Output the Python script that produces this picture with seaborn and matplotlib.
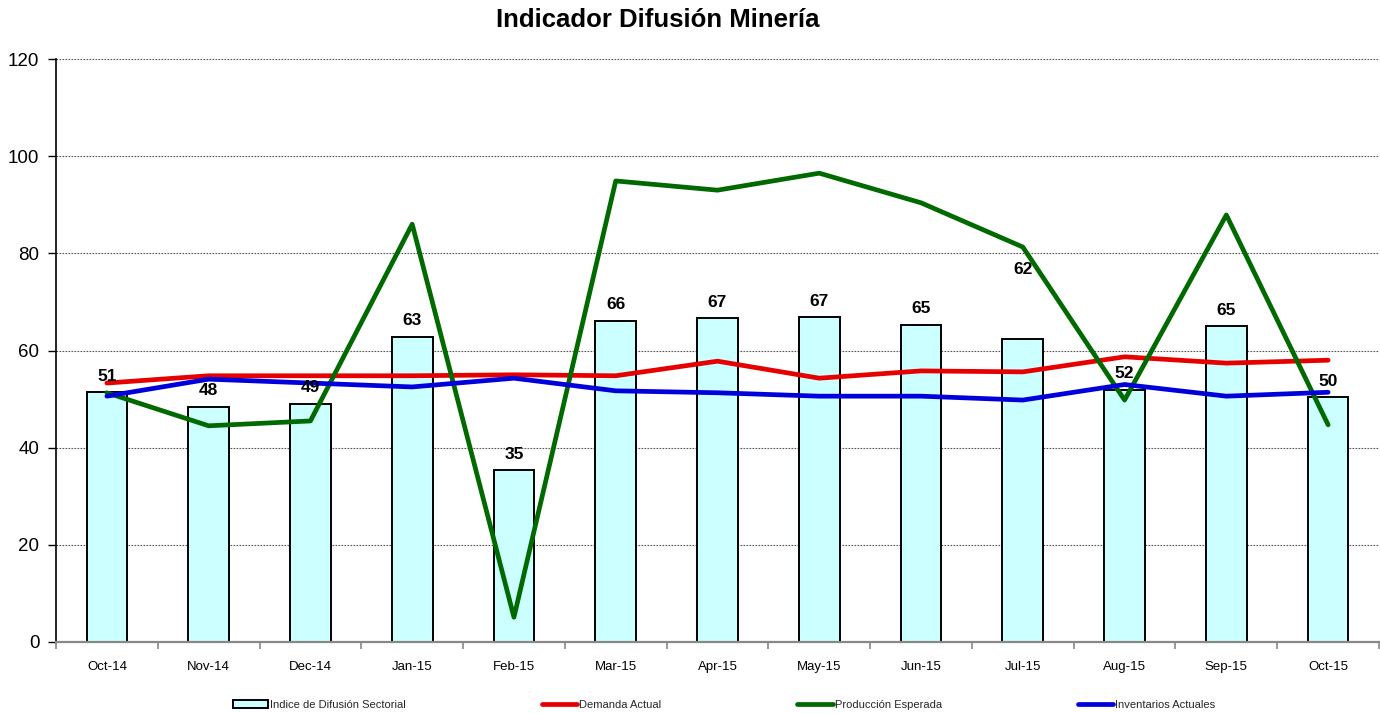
import numpy as np
import pandas as pd
import matplotlib
matplotlib.use("Agg")
import matplotlib.pyplot as plt
import seaborn as sns
from matplotlib.patches import Patch
from matplotlib.lines import Line2D
from matplotlib.ticker import MultipleLocator, FixedLocator

sns.set_theme(style="white")
plt.rcParams['font.family'] = ['Liberation Sans', 'DejaVu Sans']

months = ["Oct-14", "Nov-14", "Dec-14", "Jan-15", "Feb-15", "Mar-15", "Apr-15",
          "May-15", "Jun-15", "Jul-15", "Aug-15", "Sep-15", "Oct-15"]
indice = [51.4, 48.4, 49.0, 62.8, 35.4, 66.1, 66.6, 66.9, 65.3, 62.4, 51.9, 65.0, 50.4]
demanda = [53.3, 54.8, 54.8, 54.8, 55.0, 54.8, 57.8, 54.3, 55.8, 55.6, 58.7, 57.4, 58.0]
produccion = [51.3, 44.5, 45.5, 86.0, 5.1, 94.9, 93.0, 96.5, 90.4, 81.3, 49.8, 87.9, 44.7]
inventarios = [50.6, 54.1, 53.3, 52.5, 54.3, 51.7, 51.3, 50.6, 50.6, 49.8, 53.0, 50.6, 51.4]

names = ["Indice de Difusión Sectorial", "Demanda Actual", "Producción Esperada", "Inventarios Actuales"]
bar_color = "#CCFFFF"
line_colors = ["#E60000", "#006A00", "#0000DD"]

df = pd.DataFrame({"mes": months, "idx": indice, "dem": demanda,
                   "prod": produccion, "inv": inventarios})
df["pos"] = np.arange(len(df))

fig = plt.figure(figsize=(13.8, 7.13), dpi=100)
ax = fig.add_axes([56 / 1380, 1 - 642 / 713, 1323 / 1380, (642 - 59) / 713])

sns.barplot(data=df, x="mes", y="idx", color=bar_color, width=0.40,
            edgecolor="black", linewidth=1.4, saturation=1, ax=ax, zorder=2)

for col, c in zip(["dem", "prod", "inv"], line_colors):
    sns.lineplot(data=df, x="pos", y=col, color=c, linewidth=3.4, ax=ax,
                 zorder=3, sort=False)

# data labels
for i, v in enumerate(indice):
    off = 11.5 if months[i] != "Jul-15" else 50
    ax.annotate(f"{v:.0f}", (i, v), xytext=(0, off), textcoords="offset points",
                ha="center", va="center", fontsize=12.5, fontweight="bold",
                color="black", zorder=5)

ax.set_xlim(-0.5, len(months) - 0.5)
ax.set_ylim(0, 120)
ax.yaxis.set_major_locator(MultipleLocator(20))
ax.set_xlabel("")
ax.set_ylabel("")
ax.grid(False)
ax.yaxis.grid(True, linestyle=(0, (1.5, 1.2)), color="#555555", linewidth=0.8)
ax.set_axisbelow(True)

for s in ["top", "right"]:
    ax.spines[s].set_visible(False)
ax.spines["left"].set_color("black")
ax.spines["left"].set_linewidth(1.2)
ax.spines["bottom"].set_color("#888888")
ax.spines["bottom"].set_linewidth(1.6)

ax.tick_params(axis="y", left=True, length=6, width=1.0, color="black",
               labelsize=13.5, pad=6, labelcolor="black")
ax.tick_params(axis="x", bottom=False, labelsize=9.5, pad=8, labelcolor="black")
ax.xaxis.set_minor_locator(FixedLocator(np.arange(-0.5, len(months), 1.0)))
ax.tick_params(axis="x", which="minor", bottom=True, length=5, width=1.2, color="#888888")

fig.text(658 / 1380, 1 - 20 / 713, "Indicador Difusión Minería", ha="center", va="center",
         fontsize=18.5, fontweight="bold", color="black")

handles = [Patch(facecolor=bar_color, edgecolor="black", linewidth=1.4)] + \
          [Line2D([0], [0], color=c, linewidth=3.4) for c in line_colors]
fig.legend(handles, names, loc="center", bbox_to_anchor=(724 / 1380, 1 - 705 / 713),
           ncol=4, frameon=False, fontsize=8, handlelength=3.2, handleheight=0.8,
           handletextpad=0.2, columnspacing=12.2)

fig.savefig("out.png", dpi=100)
